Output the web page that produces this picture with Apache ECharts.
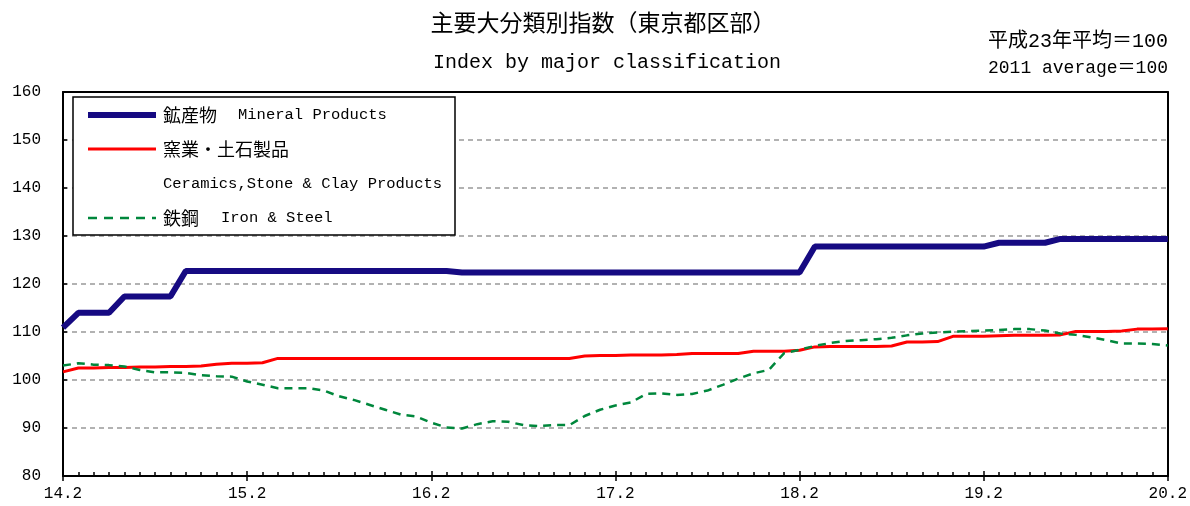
<!DOCTYPE html>
<html>
<head>
<meta charset="utf-8">
<script src="https://cdn.jsdelivr.net/npm/echarts@6/dist/echarts.min.js"></script>
<style>
html,body{margin:0;padding:0;background:#fff;}
#c{width:1190px;height:506px;}
</style>
</head>
<body>
<div id="c"></div>
<script>
// x positions: months from 14.2 (index 0) to 20.2 (index 72)
const tickLabels = ['14.2','15.2','16.2','17.2','18.2','19.2','20.2'];

const mineral = [
 110.9,114.0,114.0,114.0,117.4,117.4,117.4,117.4,122.7,122.7,
 122.7,122.7,122.7,122.7,122.7,122.7,122.7,122.7,122.7,122.7,
 122.7,122.7,122.7,122.7,122.7,122.7,122.4,122.4,122.4,122.4,
 122.4,122.4,122.4,122.4,122.4,122.4,122.4,122.4,122.4,122.4,
 122.4,122.4,122.4,122.4,122.4,122.4,122.4,122.4,122.4,127.8,
 127.8,127.8,127.8,127.8,127.8,127.8,127.8,127.8,127.8,127.8,
 127.8,128.6,128.6,128.6,128.6,129.4,129.4,129.4,129.4,129.4,
 129.4,129.4,129.4
];

const ceramics = [
 101.7,102.5,102.5,102.6,102.6,102.7,102.7,102.8,102.8,102.9,
 103.3,103.5,103.5,103.6,104.5,104.5,104.5,104.5,104.5,104.5,
 104.5,104.5,104.5,104.5,104.5,104.5,104.5,104.5,104.5,104.5,
 104.5,104.5,104.5,104.5,105.0,105.1,105.1,105.2,105.2,105.2,
 105.3,105.5,105.5,105.5,105.5,106.0,106.0,106.0,106.2,106.9,
 107.0,107.0,107.0,107.0,107.1,107.9,107.9,108.0,109.1,109.1,
 109.1,109.2,109.3,109.3,109.3,109.4,110.1,110.1,110.1,110.2,
 110.6,110.6,110.7
];

const ironSteel = [
 103.0,103.5,103.2,103.1,102.8,102.1,101.6,101.6,101.5,101.0,
 100.8,100.7,99.7,99.0,98.3,98.3,98.3,97.8,96.6,95.8,
 94.8,93.8,92.8,92.4,91.1,90.1,89.9,90.8,91.4,91.3,
 90.6,90.4,90.6,90.6,92.5,93.8,94.7,95.3,97.1,97.2,
 96.9,97.1,97.8,99.0,100.3,101.4,102.1,105.6,106.3,107.1,
 107.7,108.1,108.3,108.5,108.8,109.3,109.7,109.9,110.1,110.2,
 110.3,110.4,110.6,110.6,110.3,109.7,109.4,108.9,108.3,107.6,
 107.6,107.5,107.2
];

const seriesNames = ['鉱産物 Mineral Products','窯業・土石製品 Ceramics,Stone & Clay Products','鉄鋼 Iron & Steel'];

const toPairs = arr => arr.map((v, i) => [i, v]);

const MONO = '"Liberation Mono", "DejaVu Sans Mono", monospace';
const CJK = '"Noto Sans CJK JP", "Noto Sans CJK SC", sans-serif';
const MIX = '"Liberation Mono", "Noto Sans CJK JP", monospace';

const chart = echarts.init(document.getElementById('c'), null, {renderer: 'canvas'});

const xBase = {type: 'value', min: 0, max: 72, interval: 12};
const yBase = {type: 'value', min: 80, max: 160, interval: 10};
const blackLine = {show: true, onZero: false, lineStyle: {color: '#000', width: 2}};

chart.setOption({
  animation: false,
  backgroundColor: '#fff',
  grid: {left: 63, right: 19, top: 92, bottom: 30, show: false},
  xAxis: [
    Object.assign({}, xBase, {
      position: 'bottom',
      axisLine: blackLine,
      axisTick: {show: true, inside: true, length: 5, lineStyle: {color: '#000', width: 1.5}},
      minorTick: {show: true, splitNumber: 12, length: 4, lineStyle: {color: '#000', width: 1.5}},
      splitLine: {show: false},
      axisLabel: {
        show: true, margin: 10, color: '#000', fontSize: 16, fontFamily: MONO,
        formatter: v => tickLabels[Math.round(v / 12)] || ''
      }
    }),
    Object.assign({}, xBase, {
      position: 'bottom',
      axisLine: {show: false, onZero: false},
      axisTick: {show: true, inside: false, length: 5, lineStyle: {color: '#000', width: 1.5}},
      minorTick: {show: false},
      splitLine: {show: false},
      axisLabel: {show: false}
    }),
    Object.assign({}, xBase, {
      position: 'top',
      axisLine: blackLine,
      axisTick: {show: false}, minorTick: {show: false},
      splitLine: {show: false}, axisLabel: {show: false}
    })
  ],
  yAxis: [
    Object.assign({}, yBase, {
      position: 'left',
      axisLine: blackLine,
      axisTick: {show: true, inside: true, length: 4, lineStyle: {color: '#000', width: 1.5}},
      splitLine: {show: true, lineStyle: {color: '#999', width: 1.5, type: [5, 4]}},
      axisLabel: {margin: 22, color: '#000', fontSize: 16, fontFamily: MONO}
    }),
    Object.assign({}, yBase, {
      position: 'right',
      axisLine: blackLine,
      axisTick: {show: false}, splitLine: {show: false}, axisLabel: {show: false}
    })
  ],
  series: [
    {
      name: seriesNames[0], type: 'line', data: toPairs(mineral), xAxisIndex: 0, yAxisIndex: 0,
      symbol: 'none', lineStyle: {color: '#160A82', width: 6}, z: 3
    },
    {
      name: seriesNames[1], type: 'line', data: toPairs(ceramics), xAxisIndex: 0, yAxisIndex: 0,
      symbol: 'none', lineStyle: {color: '#FF0000', width: 3}, z: 4
    },
    {
      name: seriesNames[2], type: 'line', data: toPairs(ironSteel), xAxisIndex: 0, yAxisIndex: 0,
      symbol: 'none', lineStyle: {color: '#00873C', width: 2.5, type: [8, 6]}, z: 5
    }
  ],
  graphic: [
    // titles
    {type: 'text', x: 603, y: 22,
     style: {text: '主要大分類別指数（東京都区部）', font: '23px ' + CJK, fill: '#000',
             textAlign: 'center', textVerticalAlign: 'middle'}},
    {type: 'text', x: 607, y: 63,
     style: {text: 'Index by major classification', font: '20px ' + MONO, fill: '#000',
             textAlign: 'center', textVerticalAlign: 'middle'}},
    {type: 'text', x: 1168, y: 42,
     style: {text: '平成23年平均＝100', font: '20px ' + MIX, fill: '#000',
             textAlign: 'right', textVerticalAlign: 'middle'}},
    {type: 'text', x: 1168, y: 68,
     style: {text: '2011 average＝100', font: '18px ' + MIX, fill: '#000',
             textAlign: 'right', textVerticalAlign: 'middle'}},
    // legend box
    {type: 'rect', z: 100, shape: {x: 73, y: 97, width: 382, height: 138},
     style: {fill: '#fff', stroke: '#000', lineWidth: 1.5}},
    {type: 'line', z: 101, shape: {x1: 88, y1: 115, x2: 156, y2: 115},
     style: {stroke: '#160A82', lineWidth: 6}},
    {type: 'line', z: 101, shape: {x1: 88, y1: 149, x2: 156, y2: 149},
     style: {stroke: '#FF0000', lineWidth: 3}},
    {type: 'line', z: 101, shape: {x1: 88, y1: 218, x2: 156, y2: 218},
     style: {stroke: '#00873C', lineWidth: 2.5, lineDash: [9, 7]}},
    {type: 'text', z: 101, x: 163, y: 115,
     style: {text: '鉱産物', font: '18px ' + CJK, fill: '#000', textVerticalAlign: 'middle'}},
    {type: 'text', z: 101, x: 238, y: 115,
     style: {text: 'Mineral Products', font: '15.5px ' + MONO, fill: '#000', textVerticalAlign: 'middle'}},
    {type: 'text', z: 101, x: 163, y: 149,
     style: {text: '窯業・土石製品', font: '18px ' + CJK, fill: '#000', textVerticalAlign: 'middle'}},
    {type: 'text', z: 101, x: 163, y: 184,
     style: {text: 'Ceramics,Stone & Clay Products', font: '15.5px ' + MONO, fill: '#000', textVerticalAlign: 'middle'}},
    {type: 'text', z: 101, x: 163, y: 218,
     style: {text: '鉄鋼', font: '18px ' + CJK, fill: '#000', textVerticalAlign: 'middle'}},
    {type: 'text', z: 101, x: 221, y: 218,
     style: {text: 'Iron & Steel', font: '15.5px ' + MONO, fill: '#000', textVerticalAlign: 'middle'}}
  ]
});
</script>
</body>
</html>
